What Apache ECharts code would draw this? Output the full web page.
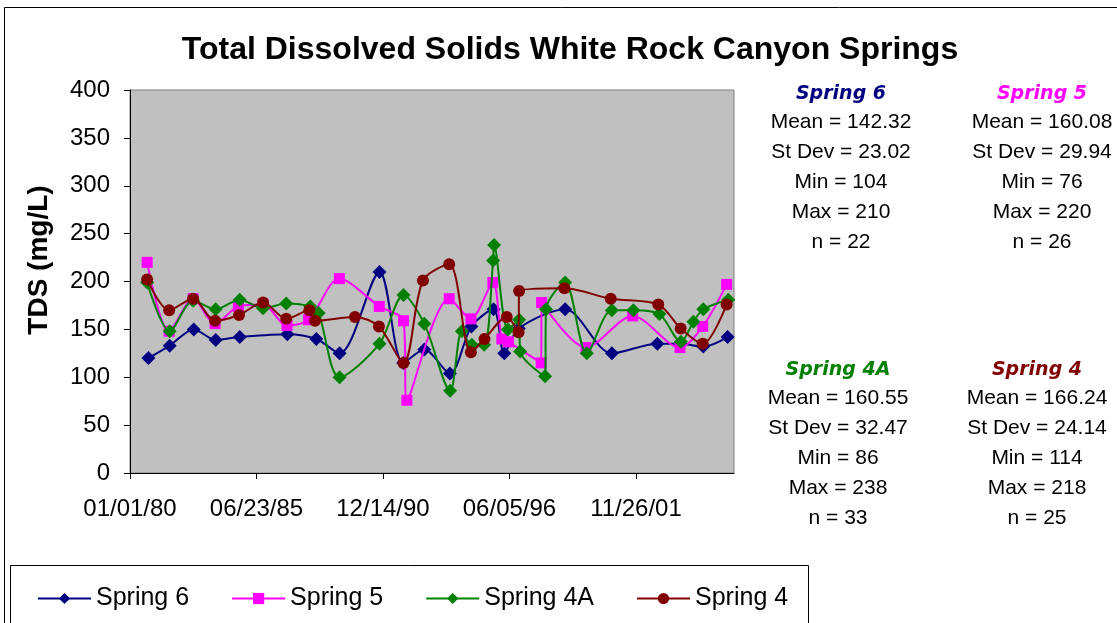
<!DOCTYPE html>
<html>
<head>
<meta charset="utf-8">
<script src="https://cdn.jsdelivr.net/npm/echarts@6/dist/echarts.min.js"></script>
<style>html,body{margin:0;padding:0;background:#fff;}#c{width:1117px;height:623px;}</style>
</head>
<body>
<div id="c"></div>
<script>
// ---- data ----
const titleText = 'Total Dissolved Solids White Rock Canyon Springs';
const yAxisTitle = 'TDS (mg/L)';
const seriesNames = ['Spring 6', 'Spring 5', 'Spring 4A', 'Spring 4'];
const seriesColors = ['#000080', '#FF00FF', '#008000', '#800000'];

const spring6Dates = ['1980-10-19','1981-09-20','1982-10-05','1983-09-17','1984-10-01','1986-10-23','1988-01-25','1989-01-27','1990-10-20','1991-10-30','1992-09-27','1993-11-06','1994-10-12','1995-09-26','1996-03-14','1996-10-30','1998-11-02','2000-11-10','2002-10-30','2003-10-23','2004-10-26','2005-11-14'];
const spring6Values = [120,133,150,139,142,145,140,125,210,115,129,104,153,171,125,151,171,125,135,135,132,142];

const spring5Dates = ['1980-09-28','1981-09-11','1982-09-25','1983-09-07','1984-09-10','1985-10-05','1986-10-19','1987-09-25','1989-01-23','1990-10-16','1991-11-03','1991-12-27','1993-10-26','1994-10-04','1995-09-16','1996-02-06','1996-05-19','1997-10-19','1997-10-26','1999-09-28','2001-10-05','2003-10-23','2004-10-16','2005-10-30'];
const spring5Values = [220,148,182,156,174,176,154,160,203,174,159,76,182,161,199,140,137,115,178,131,164,131,153,197];

const spring4ADates = ['1980-09-28','1981-09-20','1982-09-25','1983-09-17','1984-10-01','1985-10-05','1986-10-07','1987-10-22','1988-03-01','1989-01-27','1990-10-20','1991-11-03','1992-09-27','1993-11-10','1994-05-14','1994-10-19','1995-05-01','1995-09-21','1995-10-05','1996-05-11','1996-11-05','1996-11-20','1997-12-20','1998-01-04','1998-11-02','1999-10-11','2000-11-10','2001-10-16','2002-12-01','2003-11-07','2004-05-22','2004-10-26','2005-11-24'];
const spring4AValues = [199,148,180,171,181,172,177,174,167,100,135,186,156,86,148,134,134,222,238,150,160,127,101,171,199,125,170,170,166,137,158,171,181];

const spring4Dates = ['1980-09-28','1981-09-11','1982-09-25','1983-09-07','1984-09-20','1985-10-05','1986-10-07','1987-10-06','1988-01-04','1989-09-27','1990-10-11','1991-11-03','1992-09-06','1993-10-26','1994-10-04','1995-05-07','1996-04-23','1996-10-26','1996-11-05','1998-10-22','2000-10-23','2002-11-14','2003-11-03','2004-10-16','2005-10-30'];
const spring4Values = [202,170,182,159,165,178,161,170,159,163,153,115,201,218,126,140,163,147,190,193,182,176,151,135,176];

const xTickLabels = ['01/01/80','06/23/85','12/14/90','06/05/96','11/26/01'];

const statsTop = [
  {name:'Spring 6', lines:['Mean = 142.32','St Dev = 23.02','Min = 104','Max = 210','n = 22']},
  {name:'Spring 5', lines:['Mean = 160.08','St Dev = 29.94','Min = 76','Max = 220','n = 26']}
];
const statsBottom = [
  {name:'Spring 4A', lines:['Mean = 160.55','St Dev = 32.47','Min = 86','Max = 238','n = 33']},
  {name:'Spring 4', lines:['Mean = 166.24','St Dev = 24.14','Min = 114','Max = 218','n = 25']}
];

// ---- helpers ----
const DAY = 86400000;
const BASE = Date.UTC(1980,0,1);
function toDays(s){ const p=s.split('-').map(Number); return (Date.UTC(p[0],p[1]-1,p[2])-BASE)/DAY; }
function pad(n){ return (n<10?'0':'')+n; }
function fmt(v){ const d=new Date(BASE+v*DAY); return pad(d.getUTCMonth()+1)+'/'+pad(d.getUTCDate())+'/'+pad(d.getUTCFullYear()%100); }
const xTickDays = xTickLabels.map(function(s){ const p=s.split('/').map(Number); const y=p[2]<50?2000+p[2]:1900+p[2]; return (Date.UTC(y,p[0]-1,p[1])-BASE)/DAY; });

const allDates = [spring6Dates, spring5Dates, spring4ADates, spring4Dates];
const allValues = [spring6Values, spring5Values, spring4AValues, spring4Values];
const symbols = ['diamond','rect','diamond','circle'];
const symbolSizes = [14,11,14,12];

const chart = echarts.init(document.getElementById('c'), null, {renderer:'canvas'});

const series = seriesNames.map(function(n,i){
  return {
    name:n, type:'line', smooth:0.3,
    data: allDates[i].map(function(d,j){ return [toDays(d), allValues[i][j]]; }),
    symbol: symbols[i], symbolSize: symbolSizes[i],
    itemStyle:{color:seriesColors[i]},
    lineStyle:{color:seriesColors[i], width:2},
    z: 2+i
  };
});

const graphics = [
  {type:'rect', shape:{x:4.5,y:7.5,width:1200,height:700}, style:{fill:'none',stroke:'#000',lineWidth:1}, z:0},
  {type:'rect', shape:{x:10.5,y:565.5,width:798,height:80}, style:{fill:'#fff',stroke:'#000',lineWidth:1}, z:0},
  {type:'text', x:570, y:50, style:{text:titleText, font:'bold 32px "Liberation Sans", Arial, sans-serif', fill:'#000', align:'center', verticalAlign:'middle'}},
  {type:'text', x:39, y:260, rotation:Math.PI/2, style:{text:yAxisTitle, font:'bold 28px "Liberation Sans", Arial, sans-serif', fill:'#000', align:'center', verticalAlign:'middle'}}
];
function addStats(block, cx, y0, color){
  graphics.push({type:'text', x:cx, y:y0, style:{text:block.name, font:'italic bold 19px "DejaVu Sans", sans-serif', fill:color, align:'center', verticalAlign:'middle'}});
  block.lines.forEach(function(t,k){
    graphics.push({type:'text', x:cx, y:y0+28+k*30, style:{text:t, font:'21px "Liberation Sans", Arial, sans-serif', fill:'#000', align:'center', verticalAlign:'middle'}});
  });
}
addStats(statsTop[0], 841, 94, seriesColors[0]);
addStats(statsTop[1], 1042, 94, seriesColors[1]);
addStats(statsBottom[0], 838, 370, seriesColors[2]);
addStats(statsBottom[1], 1037, 370, seriesColors[3]);

chart.setOption({
  animation:false,
  backgroundColor:'#fff',
  grid:{left:130, right:383, top:90, bottom:150, show:true, backgroundColor:'#C0C0C0', borderColor:'#808080', borderWidth:1},
  xAxis:{
    type:'value', min:0, max:9550, interval:2000,
    axisLine:{show:true, onZero:false, lineStyle:{color:'#000', width:1}},
    axisTick:{show:true, length:6, customValues:xTickDays, lineStyle:{color:'#000'}},
    axisLabel:{customValues:xTickDays, formatter:fmt, fontSize:24, color:'#000', fontFamily:'"Liberation Sans", Arial, sans-serif', margin:24},
    splitLine:{show:false}
  },
  yAxis:{
    type:'value', min:0, max:400, interval:50,
    axisLine:{show:true, lineStyle:{color:'#000', width:1}},
    axisTick:{show:true, length:6, lineStyle:{color:'#000'}},
    axisLabel:{fontSize:24, color:'#000', fontFamily:'"Liberation Sans", Arial, sans-serif', margin:20},
    splitLine:{show:false}
  },
  legend:{
    left:32, top:581, itemWidth:53, itemHeight:14, itemGap:42,
    textStyle:{fontSize:25, color:'#000', fontFamily:'"Liberation Sans", Arial, sans-serif'},
    data:seriesNames
  },
  graphic:graphics,
  series:series
});
</script>
</body>
</html>
